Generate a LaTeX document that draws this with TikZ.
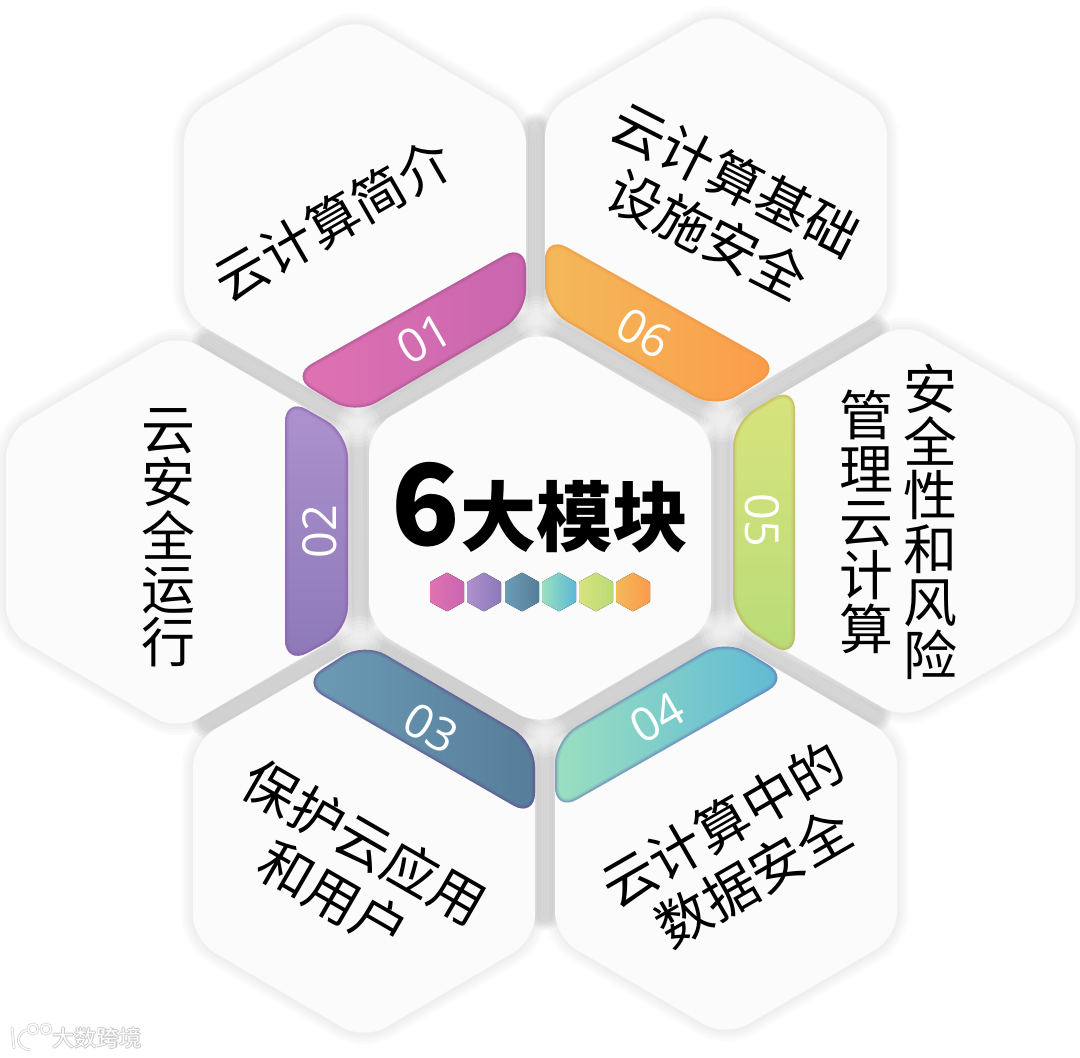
\documentclass[tikz,border=0pt]{standalone}
\usepackage{fontspec}
\setmainfont{Noto Sans CJK SC}
\newfontfamily\numfont{Open Sans}
\usepackage{xcolor}
\usetikzlibrary{calc}
\definecolor{cbase}{HTML}{FBFBFB}
\definecolor{cpinkL}{HTML}{E072B2}
\definecolor{cpinkR}{HTML}{C966AF}
\definecolor{cpurpT}{HTML}{AD92CE}
\definecolor{cpurpB}{HTML}{8D78B8}
\definecolor{csteelL}{HTML}{6C9CB6}
\definecolor{csteelR}{HTML}{567D99}
\definecolor{cmintL}{HTML}{9ADFC0}
\definecolor{cmintR}{HTML}{5DB8D6}
\definecolor{climeT}{HTML}{D9E37C}
\definecolor{climeB}{HTML}{B8DC78}
\definecolor{camberL}{HTML}{F3B95A}
\definecolor{camberR}{HTML}{FC9B4A}

\begin{document}
\begin{tikzpicture}[
    x=0.03cm, y=-0.03cm,
    hexcell/.style={fill=cbase, rounded corners=0.75cm},
    pill/.style={rounded corners=0.75cm},
    strip01/.style={left color=cpinkL, right color=cpinkR},
    strip02/.style={top color=cpurpT, bottom color=cpurpB},
    strip03/.style={left color=csteelL, right color=csteelR},
    strip04/.style={left color=cmintL, right color=cmintR},
    strip05/.style={top color=climeT, bottom color=climeB},
    strip06/.style={left color=camberL, right color=camberR},
    mini/.style={rounded corners=0.03cm},
    celltext/.style={font=\fontsize{46pt}{53pt}\selectfont, align=center, inner sep=0pt},
    stack/.style={font=\fontsize{46pt}{45.5pt}\selectfont, align=center, inner sep=0pt},
    num/.style={font=\numfont\fontsize{40pt}{40pt}\selectfont, text=white, inner sep=0pt},
    wmark/.style={inner sep=0pt, font=\fontsize{19pt}{19pt}\selectfont},
]
\useasboundingbox (0,0) rectangle (1080,1058);

% faint shadow round every cell
\foreach \cx/\cy in {540/528,355/216,716/210,904/521,726/838,364/841,177/532} {
    \foreach \w in {5,10,15,20} {
        \draw[black, opacity=0.015, line width=\w pt, rounded corners=0.75cm, shift={(\cx,\cy)}]
            (0,-199) -- (171,-99) -- (171,99) -- (0,199) -- (-171,99) -- (-171,-99) -- cycle;
    }
}

% gaps between the cells
\foreach \w in {14,18,22,26} {
    \draw[black, opacity=0.037, line width=\w pt, line cap=round, line join=round]
        (536,318) -- (722,420) -- (722,632) -- (545,735) -- (360,638) -- (358,425) -- cycle
        (536,318) -- (536,128)
        (722,420) -- (874,329)
        (722,632) -- (876,716)
        (545,735) -- (545,915)
        (360,638) -- (207,723)
        (358,425) -- (207,342);
}
% lighter where the gaps meet
\foreach \jx/\jy in {536/318,722/420,722/632,545/735,360/638,358/425} {
    \foreach \r in {22,18,14,10,6} {
        \fill[white, opacity=0.14] (\jx,\jy) circle[radius=\r];
    }
}

% cells
\foreach \cx/\cy in {540/528,355/216,716/210,904/521,726/838,364/841,177/532} {
    \fill[hexcell, shift={(\cx,\cy)}]
        (0,-199) -- (171,-99) -- (171,99) -- (0,199) -- (-171,99) -- (-171,-99) -- cycle;
}

% --- coloured strips ---
\foreach \s/\e/\p in {
    strip01/cpinkR!80!black/{(526,243) -- (526,315) -- (355,415) -- (290,376) -- cycle},
    strip02/cpurpB!75!violet/{(285,397) -- (348,433) -- (348,631) -- (285,665) -- cycle},
    strip03/csteelR!60!violet/{(364,642) -- (535,742) -- (535,818) -- (301,683) -- cycle},
    strip04/cmintR!60!violet/{(555,812) -- (555,739) -- (726,639) -- (790,678) -- cycle},
    strip05/climeB!45!brown/{(733,422) -- (795,385) -- (795,660) -- (733,620) -- cycle},
    strip06/camberR!75!brown/{(545,235) -- (545,309) -- (716,409) -- (782,368) -- cycle}
} {
    \begin{scope}
        \clip[pill] \p;
        \shade[pill, \s] \p;
        \draw[pill, \e, line width=6pt, opacity=0.18] \p;
        \draw[pill, \e, line width=3pt, opacity=0.4] \p;
    \end{scope}
}

% --- strip numbers ---
\node[num, rotate=30] (num01) at (424,339) {01};
\node[num, rotate=90] (num02) at (320,532) {02};
\node[num, rotate=-30] (num03) at (431,728) {03};
\node[num, rotate=30] (num04) at (657,718) {04};
\node[num, rotate=-90] (num05) at (762,520) {05};
\node[num, rotate=-30] (num06) at (644,333) {06};

% --- cell labels ---
\node[celltext, rotate=30, font=\fontsize{45pt}{53pt}\selectfont] (cell01) at (333,220) {云计算简介};
\node[stack] (cell02) at (168,538) {云\\安\\全\\运\\行};
\node[celltext, rotate=-30] (cell03) at (349,869) {保护云应用\\和用户};
\node[celltext, rotate=30] (cell04) at (738,851) {云计算中的\\数据安全};
\node[stack] (cell05a) at (930,522) {安\\全\\性\\和\\风\\险};
\node[stack] (cell05b) at (866,522) {管\\理\\云\\计\\算};
\node[celltext, rotate=-27] (cell06) at (722,207) {云计算基础\\设施安全};

% --- centre ---
\node[inner sep=0pt, font=\bfseries\fontsize{65pt}{70pt}\selectfont] (title) at (540,508)
    {{\fontsize{96pt}{100pt}\selectfont 6}大模块};
\foreach \mx/\ml/\mr in {447/cpinkL/cpinkR,484/cpurpT/cpurpB,522/csteelL/csteelR,559/cmintL/cmintR,596/climeT/climeB,633/camberL/camberR} {
    \fill[mini, left color=\ml, right color=\mr, shift={(\mx,592)}]
        (0,-19.5) -- (17,-10) -- (17,10) -- (0,19.5) -- (-17,10) -- (-17,-10) -- cycle;
}

% --- watermark ---
\foreach \c/\w in {black!18/2.4,white/1.2} {
    \draw[\c, line width=\w pt, line cap=round] (12,1028) -- (14,1048);
    \draw[\c, line width=\w pt] (27,1030) .. controls (15,1033) and (15,1049) .. (31,1050);
    \draw[\c, line width=\w pt] (33,1029) circle[radius=5];
    \draw[\c, line width=\w pt] (46,1029) circle[radius=5];
}
\foreach \ox/\oy [count=\i] in {-1/0,1/0,0/-1,0/1} {
    \node[wmark, text=black!22] (markglow\i) at (97+\ox,1038+\oy) {大数跨境};
}
\node[wmark, text=white] (markname) at (97,1038) {大数跨境};

\end{tikzpicture}
\end{document}
